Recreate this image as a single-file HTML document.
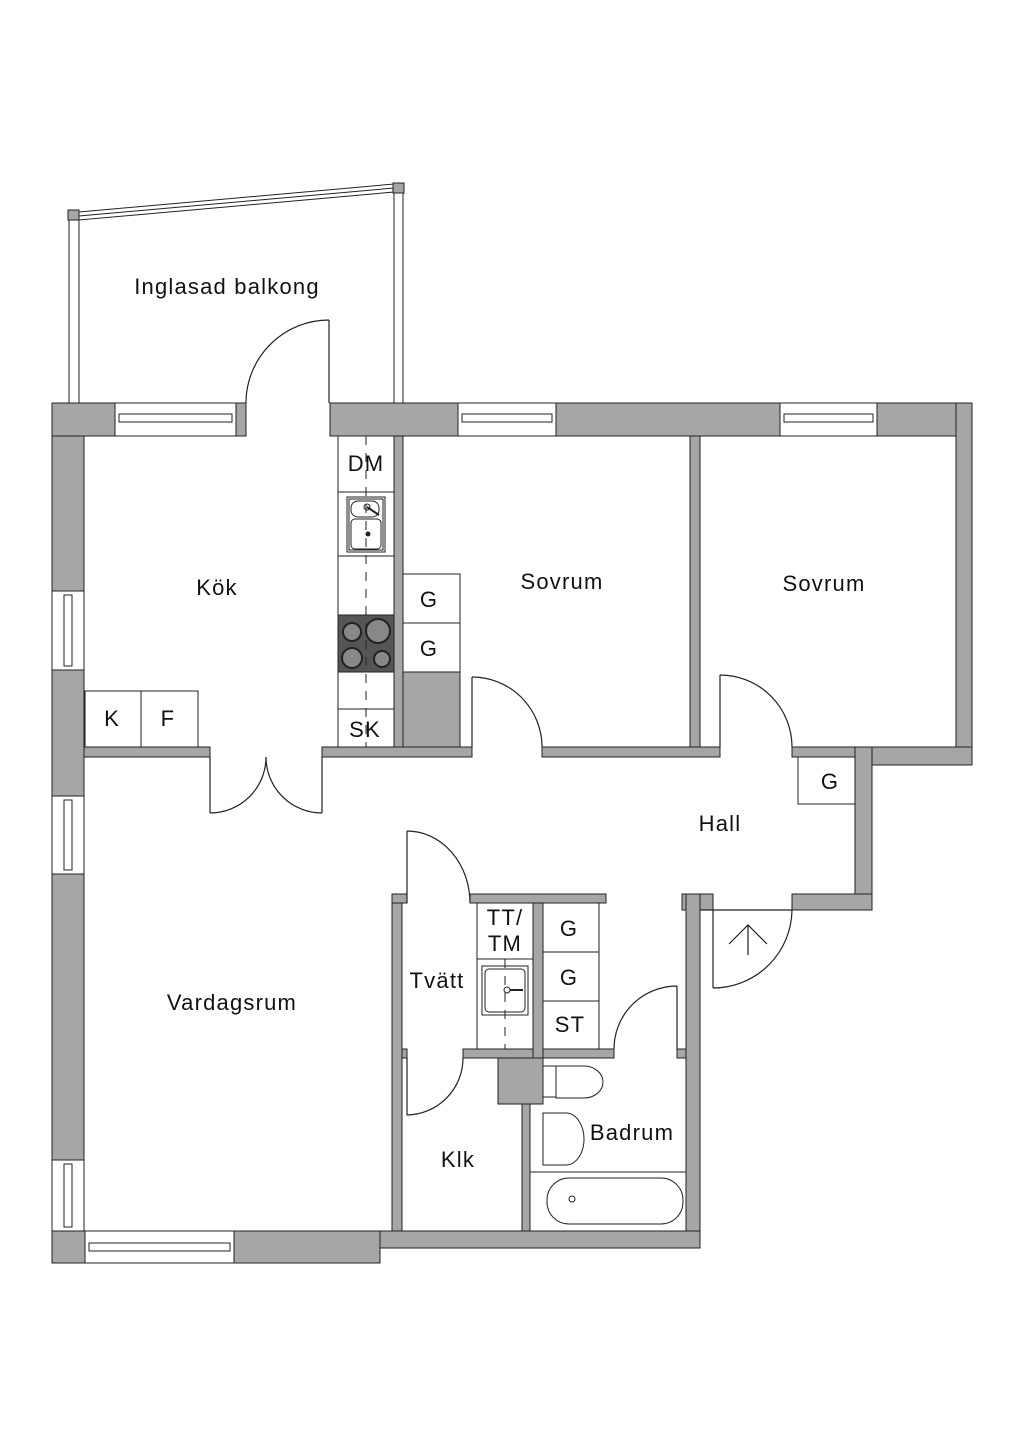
<!DOCTYPE html>
<html><head><meta charset="utf-8"><style>
html,body{margin:0;padding:0;background:#fff}
svg{display:block}
text{font-family:"Liberation Sans",sans-serif;font-size:22px;letter-spacing:1.2px;fill:#111;text-anchor:middle}
</style></head><body>
<svg width="1024" height="1448" viewBox="0 0 1024 1448" xmlns="http://www.w3.org/2000/svg">
<rect width="1024" height="1448" fill="#fff"/>
<g fill="#a6a6a6" stroke="#222" stroke-width="1">
<rect x="52" y="403" width="32" height="860"/>
<rect x="52" y="403" width="194" height="33"/>
<rect x="330" y="403" width="642" height="33"/>
<rect x="956" y="403" width="16" height="362"/>
<rect x="855" y="747" width="117" height="18"/>
<rect x="855" y="747" width="17" height="163"/>
<rect x="792" y="894" width="80" height="16"/>
<rect x="682" y="894" width="31" height="16"/>
<rect x="686" y="894" width="14" height="354"/>
<rect x="52" y="1231" width="328" height="32"/>
<rect x="380" y="1231" width="320" height="17"/>
<rect x="392" y="894" width="10" height="337"/>
<rect x="392" y="894" width="15" height="9"/>
<rect x="470" y="894" width="136" height="9"/>
<rect x="84" y="747" width="126" height="10"/>
<rect x="322" y="747" width="150" height="10"/>
<rect x="542" y="747" width="178" height="10"/>
<rect x="792" y="747" width="63" height="10"/>
<rect x="394" y="436" width="9" height="311"/>
<rect x="403" y="672" width="57" height="75"/>
<rect x="690" y="436" width="10" height="311"/>
<rect x="402" y="1049" width="5" height="9"/>
<rect x="463" y="1049" width="151" height="9"/>
<rect x="677" y="1049" width="9" height="9"/>
<rect x="533" y="903" width="10" height="155"/>
<rect x="498" y="1058" width="45" height="46"/>
<rect x="522" y="1104" width="8" height="127"/>
</g>
<g fill="#fff" stroke="#222" stroke-width="1">
<rect x="115" y="403" width="121" height="33"/><rect x="119" y="414" width="113" height="8"/>
<rect x="458" y="403" width="98" height="33"/><rect x="462" y="414" width="90" height="8"/>
<rect x="780" y="403" width="97" height="33"/><rect x="784" y="414" width="89" height="8"/>
<rect x="52" y="591" width="32" height="79"/><rect x="64" y="595" width="8" height="71"/>
<rect x="52" y="796" width="32" height="78"/><rect x="64" y="800" width="8" height="70"/>
<rect x="52" y="1160" width="32" height="71"/><rect x="64" y="1164" width="8" height="63"/>
<rect x="85" y="1231" width="149" height="32"/><rect x="89" y="1243" width="141" height="8"/>
</g>
<g fill="#fff" stroke="#222" stroke-width="1">
<rect x="69" y="212" width="10" height="191"/>
<rect x="394" y="184" width="9" height="219"/>
<polygon points="79,212 394,184 394,192 79,220"/>
<line x1="79" y1="216" x2="394" y2="188"/>
</g>
<rect x="68" y="210" width="11" height="10" fill="#a6a6a6" stroke="#222"/>
<rect x="393" y="183" width="11" height="10" fill="#a6a6a6" stroke="#222"/>
<g fill="none" stroke="#222" stroke-width="1.2">
<line x1="329" y1="403" x2="329" y2="320"/><path d="M329 320 A83 83 0 0 0 246 403"/>
<line x1="210" y1="757" x2="210" y2="813"/><path d="M210 813 A56 56 0 0 0 266 757"/>
<line x1="322" y1="757" x2="322" y2="813"/><path d="M322 813 A56 56 0 0 1 266 757"/>
<line x1="472" y1="747" x2="472" y2="677"/><path d="M472 677 A70 70 0 0 1 542 747"/>
<line x1="720" y1="747" x2="720" y2="675"/><path d="M720 675 A72 72 0 0 1 792 747"/>
<line x1="700" y1="910" x2="792" y2="910"/>
<line x1="713" y1="910" x2="713" y2="988"/><path d="M713 988 A79 79 0 0 0 792 910"/>
<line x1="748" y1="955" x2="748" y2="925"/><polyline points="729,944 748,925 767,944"/>
<line x1="407" y1="903" x2="407" y2="831"/><path d="M407 831 A63 72 0 0 1 470 903"/>
<line x1="407" y1="1058" x2="407" y2="1115"/><path d="M407 1115 A57 57 0 0 0 463 1058"/>
<line x1="677" y1="1049" x2="677" y2="986"/><path d="M677 986 A63 63 0 0 0 614 1049"/>
</g>
<g fill="#fff" stroke="#222" stroke-width="1">
<rect x="338" y="436" width="56" height="311"/>
<line x1="338" y1="492" x2="394" y2="492"/><line x1="338" y1="556" x2="394" y2="556"/>
<line x1="338" y1="709" x2="394" y2="709"/>
<rect x="347" y="497" width="38" height="55"/><rect x="349" y="499" width="34" height="51"/>
<rect x="351" y="501" width="28" height="16" rx="7"/><rect x="351" y="519" width="30" height="30" rx="4"/>
<rect x="403" y="574" width="57" height="49"/><rect x="403" y="623" width="57" height="49"/>
<rect x="85" y="691" width="56" height="56"/><rect x="141" y="691" width="57" height="56"/>
<rect x="798" y="757" width="57" height="47"/>
<rect x="477" y="903" width="56" height="146"/><line x1="477" y1="959" x2="533" y2="959"/>
<rect x="482" y="966" width="46" height="49"/><rect x="485" y="969" width="40" height="43" rx="4"/>
<rect x="543" y="903" width="56" height="146"/>
<line x1="543" y1="952" x2="599" y2="952"/><line x1="543" y1="1001" x2="599" y2="1001"/>
<rect x="530" y="1172" width="156" height="59"/>
<rect x="547" y="1178" width="136" height="46" rx="22"/>
<path d="M543 1066 L556 1066 Q560 1081 556 1097 L543 1097 Z"/>
<path d="M556 1066 L584 1066 A19 16 0 0 1 584 1098 L556 1098 Z"/>
<path d="M543 1113 L566 1113 A18 26 0 0 1 566 1165 L543 1165 Z"/>
</g>
<rect x="338" y="615" width="56" height="57" fill="#555" stroke="#222"/>
<g fill="#888" stroke="#222" stroke-width="2">
<circle cx="352" cy="632" r="9"/><circle cx="378" cy="631" r="12"/>
<circle cx="352" cy="658" r="10"/><circle cx="382" cy="659" r="8"/>
</g>
<g stroke="#222" stroke-width="1" stroke-dasharray="9,8">
<line x1="366" y1="436" x2="366" y2="747"/>
<line x1="505" y1="959" x2="505" y2="1049"/>
</g>
<circle cx="367" cy="507" r="3" fill="none" stroke="#222"/><line x1="367" y1="507" x2="379" y2="515" stroke="#222" stroke-width="2"/>
<circle cx="368" cy="534" r="2.5" fill="#222"/>
<circle cx="507" cy="990" r="3" fill="none" stroke="#222"/><line x1="510" y1="990" x2="523" y2="990" stroke="#222" stroke-width="2"/>
<circle cx="572" cy="1199" r="3" fill="none" stroke="#222"/>
<g>
<text x="227" y="294">Inglasad balkong</text>
<text x="217" y="595">Kök</text>
<text x="562" y="589">Sovrum</text>
<text x="824" y="591">Sovrum</text>
<text x="720" y="831">Hall</text>
<text x="232" y="1010">Vardagsrum</text>
<text x="437" y="988">Tvätt</text>
<text x="458" y="1167">Klk</text>
<text x="632" y="1140">Badrum</text>
<text x="366" y="471">DM</text>
<text x="365" y="737">SK</text>
<text x="112" y="726">K</text>
<text x="168" y="726">F</text>
<text x="429" y="607">G</text>
<text x="429" y="656">G</text>
<text x="830" y="789">G</text>
<text x="505" y="925">TT/</text>
<text x="505" y="951">TM</text>
<text x="569" y="936">G</text>
<text x="569" y="985">G</text>
<text x="570" y="1032">ST</text>
</g>
</svg>
</body></html>
